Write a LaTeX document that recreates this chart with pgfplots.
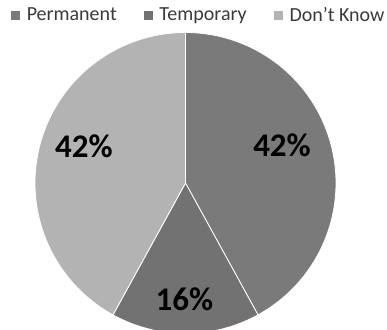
\documentclass[border=0pt]{standalone}
\usepackage{pgfplots}
\pgfplotsset{compat=1.18}
\usepackage{fontspec}
\setmainfont{Carlito}
\definecolor{perm}{HTML}{7A7A7A}
\definecolor{temp}{HTML}{727272}
\definecolor{dk}{HTML}{B3B3B3}
\definecolor{txt}{HTML}{3A3A3A}
% shares in percent
\def\pPerm{42}
\def\pTemp{16}
\def\pDK{42}
\begin{document}
\begin{tikzpicture}
\pgfmathsetmacro{\aA}{90}
\pgfmathsetmacro{\aB}{90-3.6*\pPerm}
\pgfmathsetmacro{\aC}{\aB-3.6*\pTemp}
\pgfmathsetmacro{\aD}{\aC-3.6*\pDK}
\begin{axis}[
  name=ax,
  width=387pt, height=329pt, scale only axis,
  xmin=0, xmax=387, ymin=0, ymax=329,
  hide axis,
  legend columns=3,
  legend style={at={(axis cs:10,314)}, anchor=west, draw=none, fill=none,
    inner sep=0pt, outer sep=0pt,
    font=\fontsize{20}{23}\selectfont\color{txt},
    /tikz/every even column/.append style={column sep=24pt}},
  legend image code/.code={\fill[#1] (0pt,-5pt) rectangle (10pt,5pt); \path (14pt,0pt);},
]
\addplot[fill=perm, draw=white, line width=0.8pt, domain=\aA:\aB, samples=80, variable=\t]
  ({185.5+150.5*cos(\t)},{146+150.5*sin(\t)}) -- (axis cs:185.5,146) -- cycle;
\addlegendentry{Permanent}
\addplot[fill=temp, draw=white, line width=0.8pt, domain=\aB:\aC, samples=40, variable=\t]
  ({185.5+150.5*cos(\t)},{146+150.5*sin(\t)}) -- (axis cs:185.5,146) -- cycle;
\addlegendentry{Temporary}
\addplot[fill=dk, draw=white, line width=0.8pt, domain=\aC:\aD, samples=80, variable=\t]
  ({185.5+150.5*cos(\t)},{146+150.5*sin(\t)}) -- (axis cs:185.5,146) -- cycle;
\addlegendentry{Don't Know}
\node[font=\bfseries\fontsize{33}{36}\selectfont] at (axis cs:282,184) {42\%};
\node[font=\bfseries\fontsize{33}{36}\selectfont] at (axis cs:84,183) {42\%};
\node[font=\bfseries\fontsize{33}{36}\selectfont] at (axis cs:184.5,30) {16\%};
\end{axis}
\pgfresetboundingbox
\path[use as bounding box] (ax.south west) rectangle (ax.north east);
\end{tikzpicture}
\end{document}
